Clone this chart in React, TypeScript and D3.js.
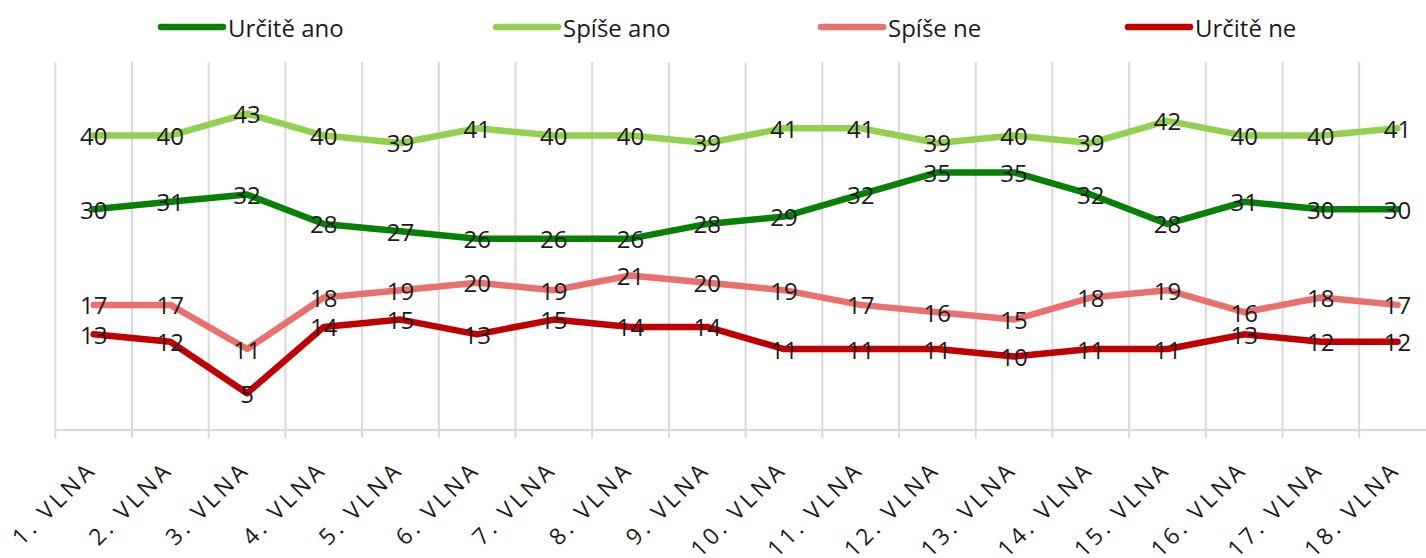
import React from "react";
import * as d3 from "d3";

const categories = [
  "1. VLNA", "2. VLNA", "3. VLNA", "4. VLNA", "5. VLNA", "6. VLNA",
  "7. VLNA", "8. VLNA", "9. VLNA", "10. VLNA", "11. VLNA", "12. VLNA",
  "13. VLNA", "14. VLNA", "15. VLNA", "16. VLNA", "17. VLNA", "18. VLNA",
];

const urciteAno = [30, 31, 32, 28, 27, 26, 26, 26, 28, 29, 32, 35, 35, 32, 28, 31, 30, 30];
const spiseAno = [40, 40, 43, 40, 39, 41, 40, 40, 39, 41, 41, 39, 40, 39, 42, 40, 40, 41];
const spiseNe = [17, 17, 11, 18, 19, 20, 19, 21, 20, 19, 17, 16, 15, 18, 19, 16, 18, 17];
const urciteNe = [13, 12, 5, 14, 15, 13, 15, 14, 14, 11, 11, 11, 10, 11, 11, 13, 12, 12];

const seriesNames = ["Určitě ano", "Spíše ano", "Spíše ne", "Určitě ne"];
const seriesColors = ["#088008", "#92d050", "#e8706d", "#c00000"];
const seriesValues = [urciteAno, spiseAno, spiseNe, urciteNe];

const yDomain = [0, 50];

const W = 1426;
const H = 558;
const plotLeft = 55.3;
const plotRight = 55.3 + 18 * 76.7;
const plotTop = 62;
const plotBottom = 430;

const FONT = "'Open Sans', Calibri, sans-serif";

export default function App() {
  const x = d3
    .scaleBand<string>()
    .domain(categories)
    .range([plotLeft, plotRight])
    .paddingInner(0)
    .paddingOuter(0);
  const y = d3.scaleLinear().domain(yDomain).range([plotBottom, plotTop]);
  const cx = (c: string) => (x(c) as number) + x.bandwidth() / 2;

  const line = d3
    .line<number>()
    .x((_, i) => cx(categories[i]))
    .y((d) => y(d));

  const legendX = [158, 493, 818, 1125];

  return (
    <svg
      width={W}
      height={H}
      style={{ position: "absolute", left: 0, top: 0, background: "#fff" }}
      fontFamily={FONT}
    >
      {/* vertical gridlines */}
      {categories.map((c, i) =>
        i === 0 ? null : (
          <line
            key={"g" + i}
            x1={x(c) as number}
            x2={x(c) as number}
            y1={plotTop}
            y2={plotBottom + 8}
            stroke="#d9d9d9"
            strokeWidth={2}
          />
        )
      )}
      {/* left axis tick */}
      <line x1={plotLeft} x2={plotLeft} y1={plotTop} y2={plotBottom + 8} stroke="#d9d9d9" strokeWidth={2} />
      {/* x axis */}
      <line x1={plotLeft} x2={plotRight} y1={plotBottom} y2={plotBottom} stroke="#d9d9d9" strokeWidth={2} />

      {/* lines */}
      {seriesValues.map((vals, si) => (
        <path
          key={"l" + si}
          d={line(vals) as string}
          fill="none"
          stroke={seriesColors[si]}
          strokeWidth={6.5}
          strokeLinejoin="round"
          strokeLinecap="round"
        />
      ))}

      {/* data labels */}
      {seriesValues.map((vals, si) =>
        vals.map((v, i) => (
          <text
            key={"t" + si + "-" + i}
            x={cx(categories[i])}
            y={y(v)}
            textAnchor="middle"
            dominantBaseline="central"
            fontSize={24}
            fill="#1a1a1a"
          >
            {v}
          </text>
        ))
      )}

      {/* x labels */}
      {categories.map((c) => {
        const px = cx(c) + 4;
        const py = 471;
        return (
          <text
            key={"x" + c}
            x={px}
            y={py}
            textAnchor="end"
            fontSize={23}
            letterSpacing={3.5}
            fill="#1a1a1a"
            transform={`rotate(-45 ${px} ${py})`}
          >
            {c}
          </text>
        );
      })}

      {/* legend */}
      {seriesNames.map((n, i) => (
        <g key={"lg" + i}>
          <line
            x1={legendX[i] + 3}
            x2={legendX[i] + 65}
            y1={27}
            y2={27}
            stroke={seriesColors[i]}
            strokeWidth={6.5}
            strokeLinecap="round"
          />
          <text x={legendX[i] + 70} y={27} dominantBaseline="central" fontSize={24} fill="#1a1a1a">
            {n}
          </text>
        </g>
      ))}
    </svg>
  );
}
